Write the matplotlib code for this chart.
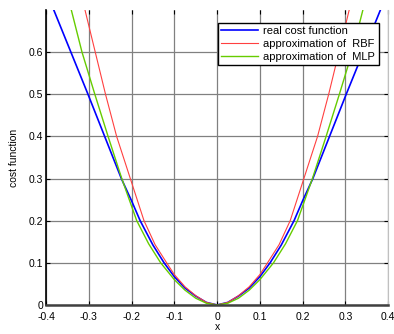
import numpy as np
import matplotlib
matplotlib.use('Agg')
import matplotlib.pyplot as plt

plt.rcParams['font.family'] = ['Liberation Sans', 'DejaVu Sans']

# real cost function
x_real = [-0.40, -0.382, -0.342, -0.302, -0.263, -0.224, -0.200, -0.180, -0.150, -0.124, -0.100,
          -0.075, -0.050, -0.025, 0.0, 0.025, 0.050, 0.075, 0.100, 0.124, 0.150, 0.180,
          0.200, 0.224, 0.263, 0.302, 0.342, 0.382, 0.40]
y_real = [0.745, 0.70, 0.60, 0.50, 0.40, 0.30, 0.247, 0.20, 0.142, 0.10, 0.067,
          0.040, 0.021, 0.006, 0.0, 0.006, 0.021, 0.040, 0.067, 0.10, 0.142, 0.20,
          0.247, 0.30, 0.40, 0.50, 0.60, 0.70, 0.745]

# approximation of RBF
x_rbf = [-0.32, -0.309, -0.285, -0.261, -0.235, -0.203, -0.171, -0.145, -0.118, -0.100,
         -0.075, -0.050, -0.025, 0.0, 0.025, 0.050, 0.075, 0.100, 0.118, 0.145, 0.171,
         0.203, 0.235, 0.261, 0.285, 0.309, 0.32]
y_rbf = [0.745, 0.70, 0.60, 0.50, 0.40, 0.30, 0.20, 0.143, 0.10, 0.072,
         0.043, 0.022, 0.006, 0.0, 0.006, 0.022, 0.043, 0.072, 0.10, 0.143, 0.20,
         0.30, 0.40, 0.50, 0.60, 0.70, 0.745]

# approximation of MLP
x_mlp = [-0.35, -0.341, -0.316, -0.286, -0.255, -0.223, -0.188, -0.160, -0.132, -0.100, -0.075,
         -0.050, -0.025, 0.0, 0.025, 0.050, 0.075, 0.100, 0.132, 0.160, 0.188, 0.223,
         0.255, 0.286, 0.316, 0.341, 0.35]
y_mlp = [0.74, 0.70, 0.60, 0.50, 0.40, 0.30, 0.20, 0.145, 0.10, 0.060, 0.035,
         0.016, 0.004, 0.0, 0.004, 0.016, 0.035, 0.060, 0.10, 0.145, 0.20, 0.30,
         0.40, 0.50, 0.60, 0.70, 0.74]

xticks = [-0.4, -0.3, -0.2, -0.1, 0, 0.1, 0.2, 0.3, 0.4]
xticklabels = ['-0.4', '-0.3', '-0.2', '-0.1', '0', '0.1', '0.2', '0.3', '0.4']
yticks = [0, 0.1, 0.2, 0.3, 0.4, 0.5, 0.6]
yticklabels = ['0', '0.1', '0.2', '0.3', '0.4', '0.5', '0.6']

fig = plt.figure(figsize=(3.94, 3.34), dpi=100)
ax = fig.add_axes([0.117, 0.087, 0.868, 0.883])

ax.plot(x_real, y_real, color='#0000ff', lw=1.2, label='real cost function')
ax.plot(x_rbf, y_rbf, color='#ff4040', lw=0.8, label='approximation of  RBF')
ax.plot(x_mlp, y_mlp, color='#66cc00', lw=1.0, label='approximation of  MLP')

ax.set_xlim(-0.4, 0.4)
ax.set_ylim(0, 0.7)
ax.set_xticks(xticks)
ax.set_xticklabels(xticklabels)
ax.set_yticks(yticks)
ax.set_yticklabels(yticklabels)
ax.tick_params(direction='in', length=3, labelsize=7.5, top=True, right=True)
ax.tick_params(axis='x', pad=5)
ax.tick_params(axis='y', pad=2)
ax.grid(True, color='#808080', lw=0.9)

ax.spines['top'].set_visible(False)
ax.spines['right'].set_color('#c0c0c0')
ax.spines['left'].set_color('black')
ax.spines['left'].set_linewidth(1.2)
ax.spines['bottom'].set_color('#404040')
ax.spines['bottom'].set_linewidth(1.8)

ax.set_xlabel('x', fontsize=7.5, labelpad=0)
ax.set_ylabel('cost function', fontsize=7.5, labelpad=7)

leg = ax.legend(loc='upper right', bbox_to_anchor=(0.9885, 0.975), fontsize=8,
                fancybox=False, edgecolor='black', framealpha=1, handlelength=3.3,
                borderpad=0.3, labelspacing=0.25, handletextpad=0.5)
leg.get_frame().set_linewidth(1.0)

plt.savefig('out.png', dpi=100)
